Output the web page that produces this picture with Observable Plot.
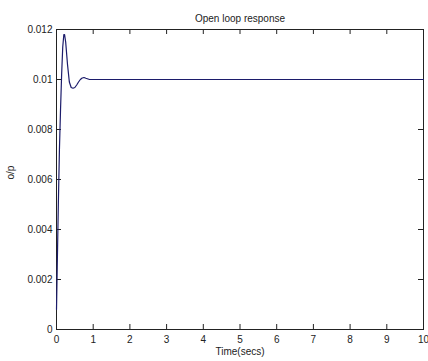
<!DOCTYPE html>
<html><head><meta charset="utf-8">
<script src="https://cdn.jsdelivr.net/npm/d3@7"></script>
<script src="https://cdn.jsdelivr.net/npm/@observablehq/plot@0.6"></script>
<style>body{margin:0;background:#fff;} svg{font-family:"Liberation Sans",Arial,sans-serif;}</style>
</head><body><div id="chart"></div>
<script>
const titleText = "Open loop response";
const xLabel = "Time(secs)";
const yLabel = "o/p";
const xTicks = [0,1,2,3,4,5,6,7,8,9,10];
const yTicks = [0,0.002,0.004,0.006,0.008,0.01,0.012];
const timeValues = [0,0.02,0.05,0.08,0.11,0.14,0.17,0.2,0.22,0.25,0.3,0.35,0.4,0.45,0.5,0.55,0.6,0.65,0.7,0.75,0.8,0.9,1.0,10];
const outputValues = [0.0008,0.0025,0.005,0.0072,0.0088,0.0102,0.0113,0.0118,0.0118,0.0115,0.0106,0.0099,0.00968,0.00965,0.00968,0.00978,0.0099,0.0100,0.01006,0.01008,0.01005,0.01,0.01,0.01];
const series = timeValues.map((t,i)=>({t, v: outputValues[i]}));

const W = 428, H = 361, mL = 56, mR = 5, mT = 29, mB = 32;
const iw = W - mL - mR, ih = H - mT - mB;
const tk = 5;
const col = "#222";
const chart = Plot.plot({
  width: W, height: H,
  marginLeft: mL, marginRight: mR, marginTop: mT, marginBottom: mB,
  style: {fontSize: "10px", fontFamily: "Liberation Sans, Arial, sans-serif", color: col, background: "#fff"},
  x: {domain: [0,10]},
  y: {domain: [0,0.012]},
  marks: [
    Plot.frame({stroke: col}),
    Plot.axisX(xTicks, {tickSize: 0, tickPadding: 6, label: null, fill: col}),
    Plot.axisY(yTicks, {tickSize: 0, tickPadding: 4, label: null, fill: col, tickFormat: d => String(+d.toFixed(3))}),
    Plot.tickX(xTicks, {x: d => d, insetTop: ih - tk, stroke: col}),
    Plot.tickX(xTicks, {x: d => d, insetBottom: ih - tk, stroke: col}),
    Plot.tickY(yTicks, {y: d => d, insetRight: iw - tk, stroke: col}),
    Plot.tickY(yTicks, {y: d => d, insetLeft: iw - tk, stroke: col}),
    Plot.line(series, {x: "t", y: "v", stroke: "#1c1c6b", strokeWidth: 1.2}),
    Plot.text([titleText], {frameAnchor: "top", dy: -15, fontSize: 10, fill: col}),
    Plot.text([xLabel], {frameAnchor: "bottom", dy: 25, fontSize: 10, fill: col}),
    Plot.text([yLabel], {frameAnchor: "left", dx: -46, rotate: -90, fontSize: 10, fill: col})
  ]
});
document.getElementById("chart").append(chart);
</script></body></html>
